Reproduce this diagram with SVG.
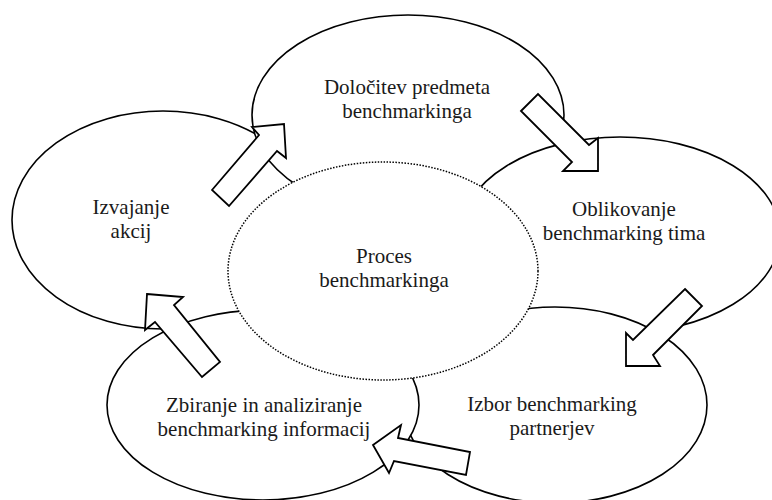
<svg xmlns="http://www.w3.org/2000/svg" width="772" height="500" viewBox="0 0 772 500">
<style>
.node ellipse { fill:#fff; stroke:#000; stroke-width:1.6; }
#center ellipse { fill:#fff; stroke:#000; stroke-width:1.5; stroke-dasharray:1.5 1.5; }
text { font-family:"Liberation Serif","Times New Roman",serif; font-size:21px; text-anchor:middle; fill:#1a1a1a; }
.arrow { fill:#fff; stroke:#000; stroke-width:1.8; stroke-linejoin:miter; }
</style>
<rect width="772" height="500" fill="#fff"/>
<g id="izvajanje" class="node">
<ellipse cx="163" cy="220" rx="151" ry="109"/>
<text x="131" y="214">Izvajanje</text>
<text x="131" y="238">akcij</text>
</g>
<g id="dolocitev" class="node">
<ellipse cx="408" cy="115" rx="156" ry="100"/>
<text x="407" y="94">Določitev predmeta</text>
<text x="407" y="118">benchmarkinga</text>
</g>
<g id="oblikovanje" class="node">
<ellipse cx="620" cy="235" rx="160" ry="98"/>
<text x="624" y="216">Oblikovanje</text>
<text x="624" y="240">benchmarking tima</text>
</g>
<g id="izbor" class="node">
<ellipse cx="555" cy="405" rx="152" ry="98"/>
<text x="552" y="411">Izbor benchmarking</text>
<text x="552" y="435">partnerjev</text>
</g>
<g id="zbiranje" class="node">
<ellipse cx="263" cy="405" rx="156" ry="95"/>
<text x="264" y="412">Zbiranje in analiziranje</text>
<text x="264" y="436">benchmarking informacij</text>
</g>
<g id="center">
<ellipse cx="383" cy="271" rx="155" ry="109"/>
<text x="384" y="263">Proces</text>
<text x="384" y="287">benchmarkinga</text>
</g>
<g id="connectors">
<polygon class="arrow" points="212,190 259,135 252,127 284,124 286,158 277,151 229,206"/>
<polygon class="arrow" points="521,111 538,94 589,145 598,138 598,171 563,171 572,162"/>
<polygon class="arrow" points="685,289 702,306 653,355 660,366 626,366 626,333 633,340"/>
<polygon class="arrow" points="373,445 401,425 398,438 470,452 466,475 394,461 389,473"/>
<polygon class="arrow" points="147,294 183,297 174,305 220,362 202,377 155,322 145,330"/>
</g>
</svg>
